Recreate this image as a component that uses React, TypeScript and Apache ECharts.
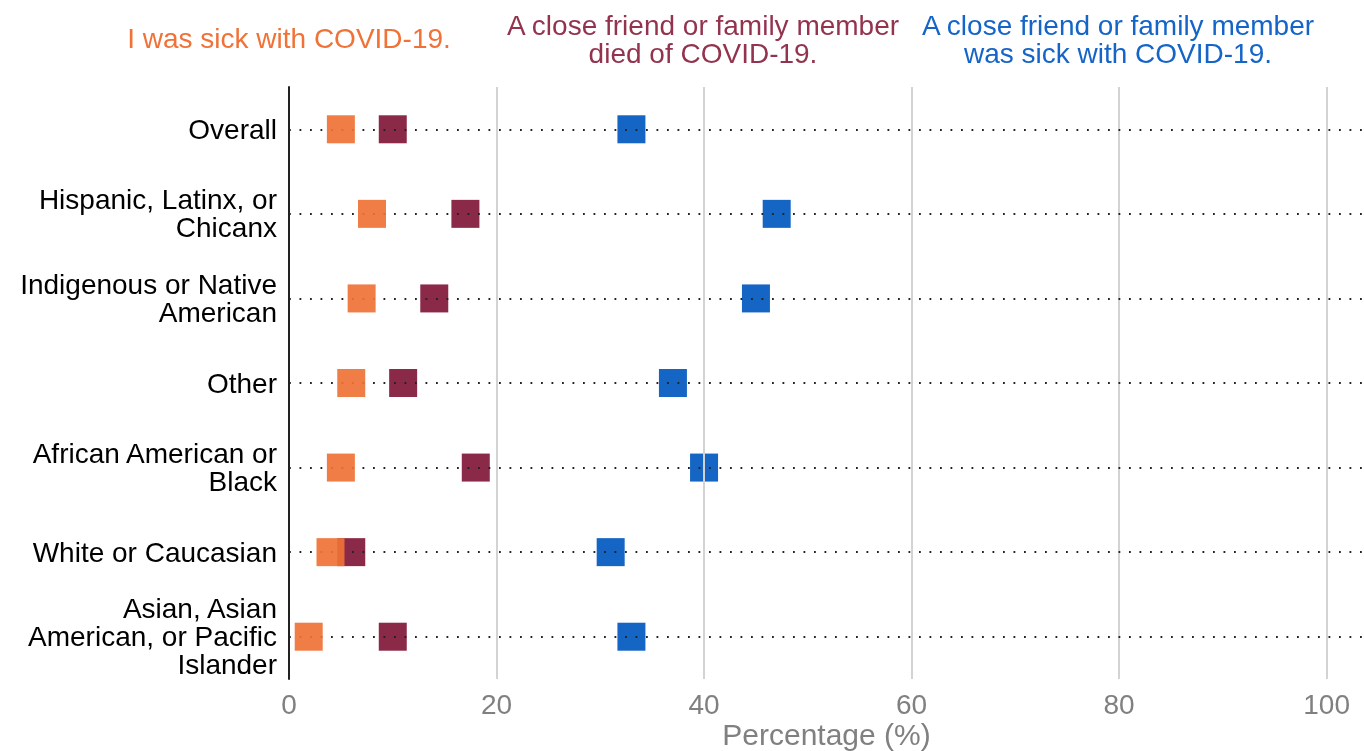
import React, { useEffect, useRef } from "react";
import * as echarts from "echarts";

const categories = [
  "Overall",
  "Hispanic, Latinx, or\nChicanx",
  "Indigenous or Native\nAmerican",
  "Other",
  "African American or\nBlack",
  "White or Caucasian",
  "Asian, Asian\nAmerican, or Pacific\nIslander",
];
const sickSelf = [5.0, 8.0, 7.0, 6.0, 5.0, 4.0, 1.9];
const friendDied = [10.0, 17.0, 14.0, 11.0, 18.0, 6.0, 10.0];
const friendSick = [33.0, 47.0, 45.0, 37.0, 40.0, 31.0, 33.0];
const gridTicks = [20, 40, 60, 80, 100];

const seriesNames = [
  "I was sick with COVID-19.",
  "A close friend or family member\ndied of COVID-19.",
  "A close friend or family member\nwas sick with COVID-19.",
];
const colors = ["#F07236", "#8B2A48", "#1565C4"];

export default function App() {
  const ref = useRef<HTMLDivElement>(null);
  useEffect(() => {
    if (!ref.current) return;
    const chart = echarts.init(ref.current, null, { renderer: "svg" });
    const font = "'Liberation Sans', Arial, sans-serif";
    const mkScatter = (name: string, vals: number[], color: string, z: number, op: number) => ({
      name,
      type: "scatter",
      symbol: "rect",
      symbolSize: 28,
      z,
      itemStyle: { color, opacity: op },
      data: vals.map((v, i) => [v, categories[i]]),
    });
    chart.setOption({
      animation: false,
      textStyle: { fontFamily: font },
      grid: {
        left: 289,
        right: 0,
        top: 87,
        bottom: 72,
        containLabel: false,
        outerBoundsMode: "none",
      },
      xAxis: {
        type: "value",
        min: 0,
        max: 103.6,
        interval: 20,
        axisLine: { show: false },
        axisTick: { show: false },
        splitLine: { show: false },
        axisLabel: {
          color: "#808080",
          fontSize: 28,
          margin: 11,
          showMaxLabel: false,
          fontFamily: font,
        },
        name: "Percentage (%)",
        nameLocation: "middle",
        nameGap: 55,
        nameMoveOverlap: false,
        nameTextStyle: {
          color: "#808080",
          fontSize: 30,
          fontFamily: font,
          verticalAlign: "middle",
        },
      },
      yAxis: {
        type: "category",
        inverse: true,
        data: categories,
        axisLine: { show: true, lineStyle: { color: "#222", width: 2 } },
        axisTick: { show: false },
        splitLine: { show: false },
        axisLabel: {
          color: "#000",
          fontSize: 28,
          lineHeight: 28,
          margin: 12,
          align: "right",
          fontFamily: font,
        },
      },
      series: [
        {
          type: "line",
          data: [],
          z: 1,
          markLine: {
            silent: true,
            symbol: "none",
            label: { show: false },
            data: [
              ...gridTicks.map((t) => ({
                xAxis: t,
                lineStyle: { color: "#d3d3d3", width: 2, type: "solid" },
              })),
              ...categories.map((c) => ({
                yAxis: c,
                lineStyle: { color: "#222", width: 1.8, type: [1.8, 8.7] },
              })),
            ],
          },
        },
        mkScatter(seriesNames[2], friendSick, colors[2], 3, 1),
        mkScatter(seriesNames[1], friendDied, colors[1], 4, 1),
        mkScatter(seriesNames[0], sickSelf, colors[0], 5, 0.92),
      ],
      graphic: [
        {
          type: "text",
          x: 289,
          y: 38,
          style: {
            text: seriesNames[0],
            fill: "#F07236",
            font: `28px ${font}`,
            align: "center",
            verticalAlign: "middle",
          },
        },
        {
          type: "text",
          x: 703,
          y: 39,
          style: {
            text: seriesNames[1],
            fill: "#93344F",
            font: `28px ${font}`,
            lineHeight: 28,
            align: "center",
            verticalAlign: "middle",
          },
        },
        {
          type: "text",
          x: 1118,
          y: 39,
          style: {
            text: seriesNames[2],
            fill: "#1565C8",
            font: `28px ${font}`,
            lineHeight: 28,
            align: "center",
            verticalAlign: "middle",
          },
        },
      ],
    });
    return () => chart.dispose();
  }, []);
  return (
    <div
      ref={ref}
      style={{ position: "fixed", left: 0, top: 0, width: 1364, height: 751 }}
    />
  );
}
